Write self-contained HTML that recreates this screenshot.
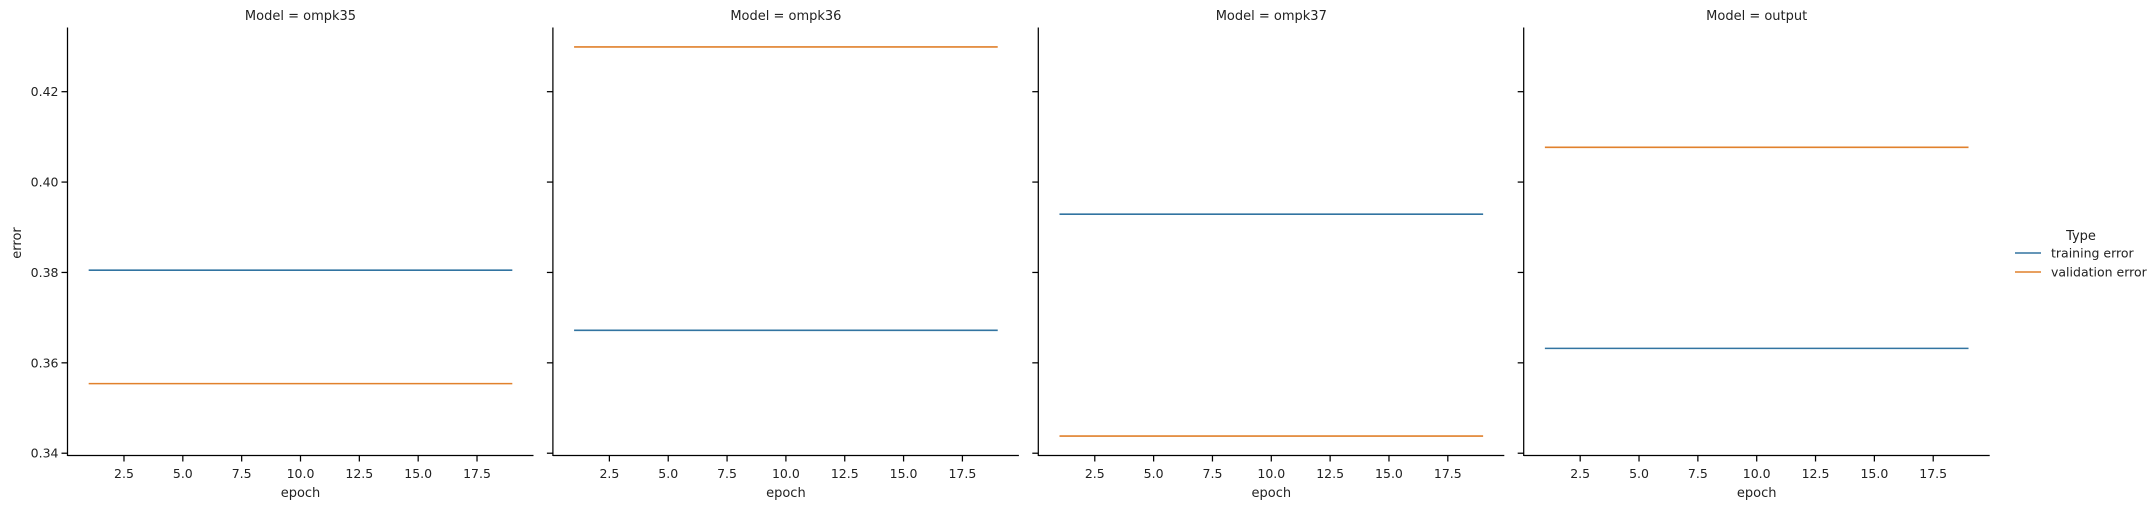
<!DOCTYPE html>
<html><head><meta charset="utf-8"><style>
body{margin:0;background:#fff}
svg{display:block;font-family:"DejaVu Sans","Liberation Sans",sans-serif}
</style></head><body>
<svg id="chart" width="2152" height="509" viewBox="0 0 2152 509" xmlns="http://www.w3.org/2000/svg"></svg>
<script>
const models = ["ompk35", "ompk36", "ompk37", "output"];
const epochs = [1, 19];
const trainingError = [0.3805, 0.3672, 0.3929, 0.3632];
const validationError = [0.3554, 0.4299, 0.3438, 0.4077];
const yTicks = [0.34, 0.36, 0.38, 0.40, 0.42];
const yTickLabels = ["0.34", "0.36", "0.38", "0.40", "0.42"];
const xTicks = [2.5, 5.0, 7.5, 10.0, 12.5, 15.0, 17.5];
const xTickLabels = ["2.5", "5.0", "7.5", "10.0", "12.5", "15.0", "17.5"];
const seriesNames = ["training error", "validation error"];
const seriesColors = ["#3274a1", "#e1812c"];

const NS = "http://www.w3.org/2000/svg";
const svg = document.getElementById("chart");
function mk(tag, attrs, parent) {
  const e = document.createElementNS(NS, tag);
  for (const k in attrs) e.setAttribute(k, attrs[k]);
  (parent || svg).appendChild(e);
  return e;
}
const panelLeft = 67.5, panelStep = 485.4, panelW = 466, plotTop = 27.5, plotBottom = 455.5;
const allVals = trainingError.concat(validationError);
const dMin = Math.min(...allVals), dMax = Math.max(...allVals);
const yPad = (dMax - dMin) * 0.05;
const yMin = dMin - yPad, yMax = dMax + yPad;
const xPad = (epochs[1] - epochs[0]) * 0.05;
const xMin = epochs[0] - xPad, xMax = epochs[1] + xPad;
function yScale(v) { return plotBottom - (v - yMin) / (yMax - yMin) * (plotBottom - plotTop); }
function xScale(p, v) { return panelLeft + p * panelStep + (v - xMin) / (xMax - xMin) * panelW; }

models.forEach((m, p) => {
  const g = mk("g", {});
  
  
  const x0 = panelLeft + p * panelStep;
  const title = mk("text", {x: x0 + panelW / 2, y: 20, "text-anchor": "middle", "font-size": 13, fill: "#222"}, g);
  title.textContent = "Model = " + m;
  
  
  [trainingError, validationError].forEach((arr, s) => {
    const ln = mk("line", {x1: xScale(p, epochs[0]), x2: xScale(p, epochs[1]), y1: yScale(arr[p]), y2: yScale(arr[p]), stroke: seriesColors[s], "stroke-width": 1.6}, g);
    
    
  });
  const ys = mk("line", {x1: x0, x2: x0, y1: plotTop, y2: plotBottom + 0.5, stroke: "#000", "stroke-width": 1.25}, g);
  
  
  const xs = mk("line", {x1: x0, x2: x0 + panelW, y1: plotBottom, y2: plotBottom, stroke: "#000", "stroke-width": 1.25}, g);
  
  
  yTicks.forEach((t, i) => {
    const y = yScale(t);
    const tk = mk("line", {x1: x0 - 6, x2: x0, y1: y, y2: y, stroke: "#000", "stroke-width": 1.25}, g);
    
    
    if (p === 0) {
      const tl = mk("text", {x: x0 - 9, y: y + 4.5, "text-anchor": "end", "font-size": 12.5, fill: "#222"}, g);
      tl.textContent = yTickLabels[i];
      
      
    }
  });
  xTicks.forEach((t, i) => {
    const x = xScale(p, t);
    const tk = mk("line", {x1: x, x2: x, y1: plotBottom, y2: plotBottom + 6, stroke: "#000", "stroke-width": 1.25}, g);
    
    
    const tl = mk("text", {x: x, y: 478, "text-anchor": "middle", "font-size": 12.5, fill: "#222"}, g);
    tl.textContent = xTickLabels[i];
    
    
  });
  const xl = mk("text", {x: x0 + panelW / 2, y: 497, "text-anchor": "middle", "font-size": 13, fill: "#222"}, g);
  xl.textContent = "epoch";
  
  
});
const yl = mk("text", {x: 0, y: 0, transform: "translate(21,243) rotate(-90)", "text-anchor": "middle", "font-size": 13, fill: "#222"});
yl.textContent = "error";



const lg = mk("g", {});


const lt = mk("text", {x: 2081, y: 240, "text-anchor": "middle", "font-size": 13, fill: "#222"}, lg);
lt.textContent = "Type";


seriesNames.forEach((n, i) => {
  const y = 253 + i * 19;
  const ll = mk("line", {x1: 2015, x2: 2041, y1: y, y2: y, stroke: seriesColors[i], "stroke-width": 1.6}, lg);
  
  
  const tx = mk("text", {x: 2051, y: y + 4.5, "font-size": 12.5, fill: "#222"}, lg);
  tx.textContent = n;
  
  
});
</script>
</body></html>
